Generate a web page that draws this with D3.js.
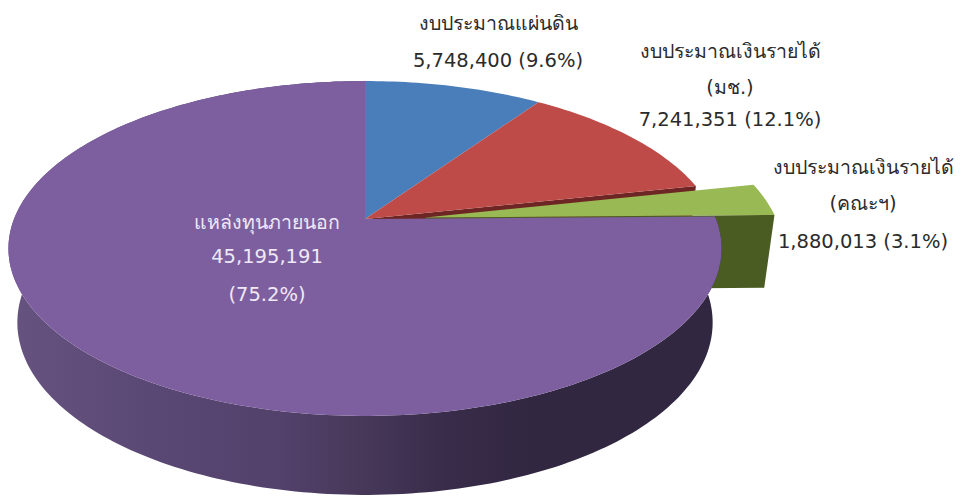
<!DOCTYPE html>
<html lang="th">
<head>
<meta http-equiv="Content-Type" content="text/html; charset=UTF-8">
<title>Budget pie</title>
<script src="https://unpkg.com/d3@7/dist/d3.min.js"></script>
<style>
  html, body { margin: 0; background: #fff; }
  svg { display: block; }
  text { font-family: "DejaVu Sans", "Noto Sans", sans-serif; font-size: 19.5px; text-anchor: middle; fill: #2b2b2b; }
</style>
</head>
<body>
<script>
  var sources = ["state", "incomeUni", "incomeFaculty", "external"];
  var amounts = [5748400, 7241351, 1880013, 45195191];
  var topColors = ["#4a7ebb", "#be4b48", "#98b954", "#7d5fa0"];
  var labelLines = [
    ["งบประมาณแผ่นดิน", "5,748,400 (9.6%)"],
    ["งบประมาณเงินรายได้", "(มช.)", "7,241,351 (12.1%)"],
    ["งบประมาณเงินรายได้", "(คณะฯ)", "1,880,013 (3.1%)"],
    ["แหล่งทุนภายนอก", "45,195,191", "(75.2%)"]
  ];
  var labelX = [498, 730, 863, 267];
  var labelY = [[30, 67], [58, 94, 126], [174, 210, 248], [229, 263, 301]];

  var ancho = 962, alto = 497;
  var apexX = 365, apexY = 219;
  var radius = 351;
  // perspective of the disc: depth v runs from -1 (back) to 1 (front)
  var persp = -0.176, tilt = 123.7;
  var explodeGreen = 0.172;

  function project(u, v, low) {
    var den = 1 + persp * v;
    var shrink = low ? 0.975 : 1;
    var drop = low ? 73 + 6 * v : 0;
    return [
      apexX + radius * shrink * u / den,
      (tilt * v + apexY) / den + drop
    ];
  }

  // pie angle: 0 is up, clockwise
  function rim(angle, off, low) {
    return project(Math.sin(angle) + off[0], -Math.cos(angle) + off[1], low);
  }
  function arcPoints(a0, a1, off, low) {
    var n = Math.ceil(Math.abs(a1 - a0) / 0.02);
    return d3.range(n + 1).map(function(i) {
      return rim(a0 + (a1 - a0) * i / n, off, low);
    });
  }

  var slices = d3.pie().sort(null).value(function(d) { return d; })(amounts);
  var line = d3.line();
  var noOff = [0, 0];

  var svg = d3.select("body").append("svg").attr("width", ancho).attr("height", alto);

  var grad = svg.append("defs").append("linearGradient")
    .attr("id", "sideGrad").attr("gradientUnits", "userSpaceOnUse")
    .attr("x1", 15).attr("x2", 712).attr("y1", 0).attr("y2", 0);
  [[0, "#66527f"], [0.2, "#5a4874"], [0.38, "#52416b"], [0.5, "#473859"], [0.62, "#382c4a"], [0.74, "#322741"], [1, "#322741"]].forEach(function(s) {
    grad.append("stop").attr("offset", s[0]).attr("stop-color", s[1]);
  });

  var blue = slices[0], red = slices[1], green = slices[2], purple = slices[3];
  // pulled out almost straight to the right, not quite along the slice middle
  var mid = green.startAngle + (green.endAngle - green.startAngle) * 0.8;
  var greenOff = [explodeGreen * Math.sin(mid), -explodeGreen * Math.cos(mid)];

  function radialWall(angle, off) {
    return [
      project(off[0], off[1], false),
      rim(angle, off, false),
      rim(angle, off, true),
      project(off[0], off[1], true)
    ];
  }
  function wedge(s, off) {
    return [project(off[0], off[1], false)].concat(arcPoints(s.startAngle, s.endAngle, off, false));
  }

  // side walls first, top faces over them
  svg.append("path").attr("d", line(radialWall(red.endAngle, noOff)) + "Z").attr("fill", "#6e2624");
  svg.append("path").attr("d", line(radialWall(green.endAngle, greenOff)) + "Z").attr("fill", "#4b5c22");

  var sideTop = arcPoints(purple.startAngle, purple.endAngle, noOff, false);
  var sideLow = arcPoints(purple.endAngle, purple.startAngle, noOff, true);
  svg.append("path").attr("d", line(sideTop.concat(sideLow)) + "Z").attr("fill", "url(#sideGrad)");

  svg.append("path").attr("d", line(wedge(green, greenOff)) + "Z").attr("fill", topColors[2]);
  svg.append("path").attr("d", line(wedge(blue, noOff)) + "Z").attr("fill", topColors[0]);
  svg.append("path").attr("d", line(wedge(red, noOff)) + "Z").attr("fill", topColors[1]);
  svg.append("path").attr("d", line(wedge(purple, noOff)) + "Z").attr("fill", topColors[3]);

  sources.forEach(function(name, i) {
    svg.selectAll("text." + name)
      .data(labelLines[i])
      .enter()
      .append("text")
      .attr("class", name)
      .attr("x", labelX[i])
      .attr("y", function(d, j) { return labelY[i][j]; })
      .style("fill", i == 3 ? "#efe9f5" : null)
      .text(function(d) { return d; });
  });
</script>
</body>
</html>
